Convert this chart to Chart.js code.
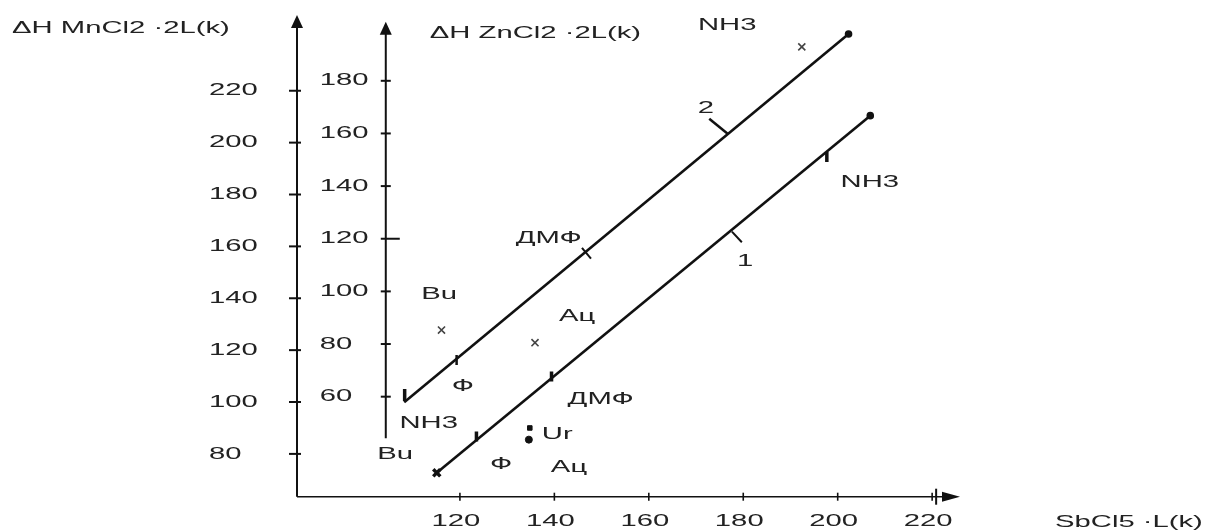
<!DOCTYPE html>
<html>
<head>
<meta charset="utf-8">
<script src="https://cdn.jsdelivr.net/npm/chart.js@4.4.1/dist/chart.umd.min.js"></script>
<style>
  html, body { margin: 0; padding: 0; background: #fff; }
  canvas { display: block; }
</style>
</head>
<body>
<canvas id="chart" width="1210" height="531"></canvas>
<script>
// tick labels
const xTicks = [120, 140, 160, 180, 200, 220];
const mnTicks = [80, 100, 120, 140, 160, 180, 200, 220];
const znTicks = [60, 80, 100, 120, 140, 160, 180];

// line 1: ΔH MnCl2·2L vs SbCl5·L
const mnFitX = [115.1, 206.9];
const mnFitY = [72.7, 210.4];
const mnLigands = ['Bu', 'Ф', 'ДМФ', 'NH3'];
const mnDonor = [115.1, 123.5, 139.4, 197.7];
const mnEnthalpy = [72.7, 86.7, 109.8, 194.5];
const urDonor = [134.8, 134.6];
const urEnthalpy = [90.0, 85.5];

// line 2: ΔH ZnCl2·2L vs SbCl5·L
const znFitX = [108.2, 202.3];
const znFitY = [57.9, 197.8];
const znLigands = ['NH3', 'Ф', 'ДМФ'];
const znDonor = [108.3, 119.3, 146.8];
const znEnthalpy = [60.6, 73.9, 114.5];
const znOffLigands = ['Bu', 'Ац', 'NH3'];
const znOffDonor = [116.1, 135.9, 192.4];
const znOffEnthalpy = [85.3, 80.5, 192.9];

const ink = '#111';
const textInk = '#222';
const FONT = '17px "Liberation Sans", Arial, sans-serif';
const STRETCH = 1.72; // the scanned lettering is very wide

// text placed next to the marks (data units)
const notes = [
  { text: 'Bu', x: 106.3, y: 80.0, axis: 'y' },
  { text: 'Ф', x: 128.7, y: 76.1, axis: 'y' },
  { text: 'Ац', x: 143.1, y: 74.8, axis: 'y' },
  { text: 'ДМФ', x: 149.8, y: 101.2, axis: 'y' },
  { text: 'Ur', x: 140.6, y: 87.7, axis: 'y' },
  { text: 'NH3', x: 206.8, y: 184.7, axis: 'y' },
  { text: '1', x: 180.4, y: 154.1, axis: 'y' },
  { text: 'NH3', x: 113.4, y: 50.0, axis: 'y2' },
  { text: 'Ф', x: 120.6, y: 63.8, axis: 'y2' },
  { text: 'Bu', x: 115.6, y: 99.0, axis: 'y2' },
  { text: 'ДМФ', x: 138.8, y: 120.2, axis: 'y2' },
  { text: 'Ац', x: 144.8, y: 90.7, axis: 'y2' },
  { text: 'NH3', x: 176.6, y: 201.2, axis: 'y2' },
  { text: '2', x: 172.1, y: 169.6, axis: 'y2' }
];

const pts = (xs, ys) => xs.map((v, i) => ({ x: v, y: ys[i] }));

function wideText(ctx, text, x, y, align) {
  ctx.save();
  ctx.translate(x, y);
  ctx.scale(STRETCH, 1);
  ctx.font = FONT;
  ctx.fillStyle = textInk;
  ctx.textAlign = align;
  ctx.textBaseline = 'middle';
  ctx.fillText(text, 0, 0);
  ctx.restore();
}

function seg(ctx, x1, y1, x2, y2) {
  ctx.beginPath();
  ctx.moveTo(x1, y1);
  ctx.lineTo(x2, y2);
  ctx.stroke();
}

function arrowHead(ctx, tipX, tipY, dir, len, half) {
  ctx.beginPath();
  if (dir === 'up') {
    ctx.moveTo(tipX, tipY);
    ctx.lineTo(tipX - half, tipY + len);
    ctx.lineTo(tipX + half, tipY + len);
  } else {
    ctx.moveTo(tipX, tipY);
    ctx.lineTo(tipX - len, tipY - half);
    ctx.lineTo(tipX - len, tipY + half);
  }
  ctx.closePath();
  ctx.fill();
}

const ZN_AXIS_AT = 104.3;         // where the ZnCl2 axis crosses SbCl5·L
const ZN_AXIS_SPAN = [44.2, 202.4];

const axesPlugin = {
  id: 'schemeAxes',
  beforeDatasetsDraw(chart) {
    const { ctx, chartArea: a } = chart;
    const { x, y, y2 } = chart.scales;
    ctx.save();
    ctx.strokeStyle = ink;
    ctx.fillStyle = ink;

    // MnCl2 axis
    ctx.lineWidth = 2;
    seg(ctx, a.left, a.bottom, a.left, a.top + 8);
    arrowHead(ctx, a.left, a.top, 'up', 13, 6);
    mnTicks.forEach(v => {
      const py = y.getPixelForValue(v);
      seg(ctx, a.left - 8, py, a.left + 4, py);
      wideText(ctx, String(v), a.left - 88, py, 'left');
    });

    // ZnCl2 axis
    const zx = x.getPixelForValue(ZN_AXIS_AT);
    const zTop = y2.getPixelForValue(ZN_AXIS_SPAN[1]);
    seg(ctx, zx, y2.getPixelForValue(ZN_AXIS_SPAN[0]), zx, zTop + 8);
    arrowHead(ctx, zx, zTop, 'up', 13, 6);
    znTicks.forEach(v => {
      const py = y2.getPixelForValue(v);
      seg(ctx, zx - 5, py, zx + (v === 120 ? 14 : 5), py);
      wideText(ctx, String(v), zx - 66, py, 'left');
    });

    // SbCl5 axis
    ctx.lineWidth = 1.6;
    seg(ctx, a.left, a.bottom, a.right - 10, a.bottom);
    arrowHead(ctx, a.right, a.bottom, 'right', 18, 5);
    xTicks.forEach(v => {
      const px = x.getPixelForValue(v);
      seg(ctx, px, a.bottom - 4, px, a.bottom + 4);
      wideText(ctx, String(v), px - 4, a.bottom + 25, 'center');
    });
    const last = x.getPixelForValue(xTicks[xTicks.length - 1]);
    ctx.lineWidth = 2;
    seg(ctx, last + 4, a.bottom - 8, last + 4, a.bottom + 8);

    // axis titles
    wideText(ctx, 'ΔH MnCl2 ·2L(k)', 12, 28, 'left');
    wideText(ctx, 'ΔH ZnCl2 ·2L(k)', zx + 44, 33, 'left');
    wideText(ctx, 'SbCl5 ·L(k)', a.right + 95, 522, 'left');

    // ligand names
    notes.forEach(n => {
      wideText(ctx, n.text, x.getPixelForValue(n.x), chart.scales[n.axis].getPixelForValue(n.y), 'center');
    });
    ctx.restore();
  }
};

new Chart(document.getElementById('chart'), {
  type: 'scatter',
  data: {
    datasets: [
      {
        label: 'MnCl2 fit',
        data: pts(mnFitX, mnFitY),
        yAxisID: 'y',
        showLine: true,
        borderColor: ink,
        borderWidth: 2.6,
        pointRadius: [0, 2.5],
        pointBackgroundColor: ink,
        pointBorderColor: ink
      },
      {
        label: 'ZnCl2 fit',
        data: pts(znFitX, znFitY),
        yAxisID: 'y2',
        showLine: true,
        borderColor: ink,
        borderWidth: 2.6,
        pointRadius: [0, 2.5],
        pointBackgroundColor: ink,
        pointBorderColor: ink
      },
      {
        label: 'MnCl2 ' + mnLigands.join(', '),
        data: pts(mnDonor, mnEnthalpy),
        yAxisID: 'y',
        pointStyle: ['crossRot', 'line', 'line', 'line'],
        rotation: [0, 90, 90, 90],
        pointRadius: [5, 5, 5, 5],
        borderColor: ink,
        borderWidth: 3.5
      },
      {
        label: 'Ur',
        data: pts(urDonor, urEnthalpy),
        yAxisID: 'y',
        pointStyle: ['rect', 'circle'],
        pointRadius: [3.2, 3.5],
        backgroundColor: ink,
        borderColor: ink,
        borderWidth: 1
      },
      {
        label: 'ZnCl2 ' + znLigands.join(', '),
        data: pts(znDonor, znEnthalpy),
        yAxisID: 'y2',
        pointStyle: ['line', 'line', 'line'],
        rotation: [90, 90, 50],
        pointRadius: [6, 5, 7],
        borderColor: ink,
        borderWidth: [3.5, 2.5, 2]
      },
      {
        label: 'ZnCl2 ' + znOffLigands.join(', '),
        data: pts(znOffDonor, znOffEnthalpy),
        yAxisID: 'y2',
        pointStyle: 'crossRot',
        pointRadius: 5,
        borderColor: '#444',
        borderWidth: 1.6
      },
      {
        label: 'leader 1',
        data: pts([177.6, 179.7], [165.7, 161.6]),
        yAxisID: 'y',
        showLine: true,
        borderColor: ink,
        borderWidth: 2,
        pointRadius: 0
      },
      {
        label: 'leader 2',
        data: pts([172.8, 176.7], [165.6, 159.9]),
        yAxisID: 'y2',
        showLine: true,
        borderColor: ink,
        borderWidth: 2.5,
        pointRadius: 0
      }
    ]
  },
  options: {
    responsive: false,
    animation: false,
    devicePixelRatio: 1,
    layout: { padding: { left: 297, right: 250, top: 15, bottom: 34.3 } },
    scales: {
      x: { type: 'linear', min: 85.5, max: 225.9, display: false },
      y: { type: 'linear', min: 63.5, max: 249.2, display: false },
      y2: { type: 'linear', min: 22.0, max: 205.0, display: false, position: 'right' }
    },
    plugins: {
      legend: { display: false },
      tooltip: { enabled: false }
    }
  },
  plugins: [axesPlugin]
});
</script>
</body>
</html>
